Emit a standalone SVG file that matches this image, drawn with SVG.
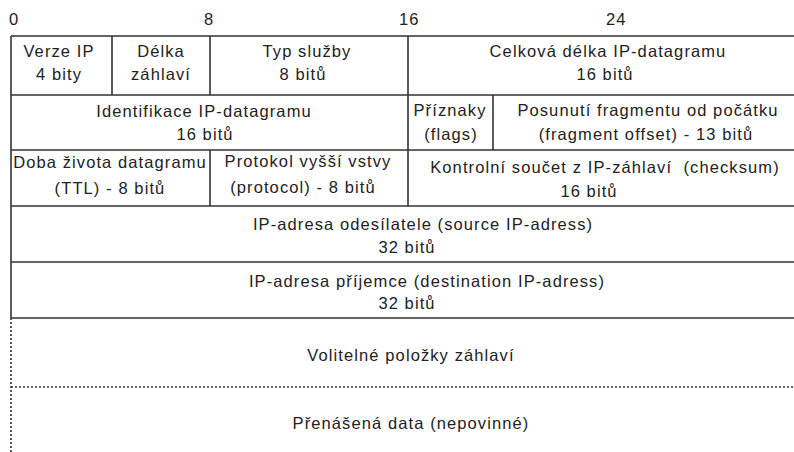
<svg xmlns="http://www.w3.org/2000/svg" width="794" height="452" viewBox="0 0 794 452">
<style>
text{font-family:"Liberation Sans",Arial,sans-serif;font-size:16.5px;letter-spacing:1.1px;fill:#222;text-anchor:middle}
.l{stroke:#333;stroke-width:1.6;fill:none}
.d{stroke:#333;stroke-width:1.6;fill:none;stroke-dasharray:2 2}
.s{text-anchor:start}
.p{white-space:pre}
</style>
<rect width="794" height="452" fill="#fff"/>
<g id="ruler">
<text class="s" x="9" y="25">0</text>
<text class="s" x="204" y="25">8</text>
<text class="s" x="399" y="25">16</text>
<text class="s" x="606" y="25">24</text>
</g>
<g id="grid">
<path class="l" d="M11 36H794M11 95H794M11 150H794M11 206H794M11 262H794M11 318H794M11 36V318M112 36V95M210 36V95M408 36V206M493 95V150M210 150V206"/>
<path class="d" d="M11 318V452M11 387H794"/>
</g>
<g id="verze"><text x="59" y="57">Verze IP</text><text x="59" y="80">4 bity</text></g>
<g id="delka"><text x="161" y="57">Délka</text><text x="161" y="80">záhlaví</text></g>
<g id="typ"><text x="307" y="57">Typ služby</text><text x="303" y="80">8 bitů</text></g>
<g id="celkova"><text x="608" y="57">Celková délka IP-datagramu</text><text x="605" y="80">16 bitů</text></g>
<g id="ident"><text x="204" y="117">Identifikace IP-datagramu</text><text x="205" y="140">16 bitů</text></g>
<g id="flags"><text x="450" y="116">Příznaky</text><text x="451" y="140">(flags)</text></g>
<g id="offset"><text x="648" y="116">Posunutí fragmentu od počátku</text><text x="646" y="140">(fragment offset) - 13 bitů</text></g>
<g id="ttl"><text x="110" y="168">Doba života datagramu</text><text x="110" y="194">(TTL) - 8 bitů</text></g>
<g id="proto"><text x="308" y="167">Protokol vyšší vstvy</text><text x="303" y="193">(protocol) - 8 bitů</text></g>
<g id="checksum"><text class="p" x="605" y="173">Kontrolní součet z IP-záhlaví  (checksum)</text><text x="589" y="197">16 bitů</text></g>
<g id="src"><text x="423" y="230">IP-adresa odesílatele (source IP-adress)</text><text x="407" y="253">32 bitů</text></g>
<g id="dst"><text x="427" y="287">IP-adresa příjemce (destination IP-adress)</text><text x="407" y="309">32 bitů</text></g>
<g id="opt"><text x="411" y="361">Volitelné položky záhlaví</text></g>
<g id="data"><text x="411" y="429">Přenášená data (nepovinné)</text></g>
</svg>
